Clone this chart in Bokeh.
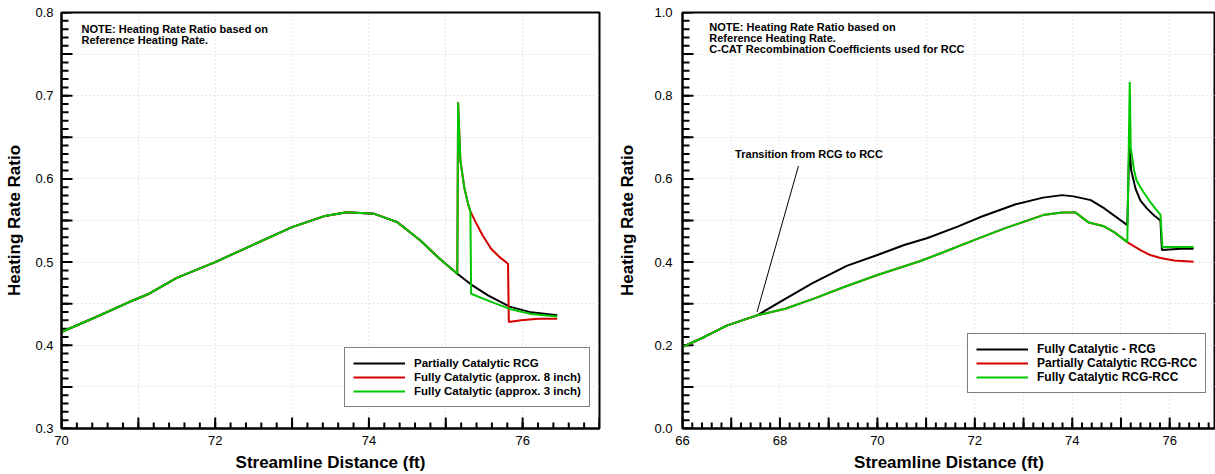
import numpy as np
from bokeh.plotting import figure
from bokeh.layouts import row
from bokeh.models import (SingleIntervalTicker, CustomJSTickFormatter, Label, Range1d)
from bokeh.embed import file_html
from bokeh.resources import INLINE

FONT = "Liberation Sans"
BLACK, RED, GREEN = "#000000", "#d40000", "#00c800"

# ---------------- Left chart data ----------------
left_common_x = [70.0, 70.45, 70.88, 71.14, 71.5, 72.0, 72.45, 73.0, 73.41, 73.71, 74.07, 74.37, 74.67, 74.92, 75.15]
left_common_y = [0.416, 0.434, 0.452, 0.462, 0.481, 0.500, 0.519, 0.542, 0.555, 0.560, 0.558, 0.548, 0.526, 0.504, 0.486]
left_black_tail_x = [75.33, 75.55, 75.83, 76.11, 76.45]
left_black_tail_y = [0.473, 0.460, 0.4465, 0.4396, 0.436]
left_spike_x = [75.16, 75.19, 75.24, 75.29, 75.32]
left_spike_y = [0.692, 0.622, 0.590, 0.570, 0.561]
left_red_tail_x = [75.40, 75.48, 75.59, 75.70, 75.81, 75.82, 75.98, 76.20, 76.45]
left_red_tail_y = [0.546, 0.532, 0.516, 0.506, 0.498, 0.428, 0.430, 0.432, 0.432]
left_green_tail_x = [75.33, 75.55, 75.83, 76.11, 76.45]
left_green_tail_y = [0.462, 0.4537, 0.4437, 0.4377, 0.4345]
left_labels = ["Partially Catalytic RCG", "Fully Catalytic (approx. 8 inch)", "Fully Catalytic (approx. 3 inch)"]
left_note = ["NOTE: Heating Rate Ratio based on", "Reference Heating Rate."]

# ---------------- Right chart data ----------------
right_common_x = [66.0, 66.45, 66.92, 67.53]
right_common_y = [0.196, 0.220, 0.248, 0.272]
right_black_x = [68.03, 68.66, 69.37, 70.0, 70.55, 71.03, 71.66, 72.13, 72.84, 73.40, 73.79, 74.03, 74.38, 74.66, 75.13,
                 75.17, 75.21, 75.30, 75.40, 75.54, 75.68, 75.81, 75.84, 76.23, 76.49]
right_black_y = [0.306, 0.349, 0.391, 0.417, 0.441, 0.458, 0.486, 0.509, 0.539, 0.555, 0.561, 0.558, 0.549, 0.529, 0.489,
                 0.680, 0.620, 0.576, 0.548, 0.528, 0.512, 0.500, 0.429, 0.432, 0.432]
right_rcc_x = [68.11, 68.74, 69.29, 70.0, 70.87, 71.34, 72.01, 72.61, 73.40, 73.79, 74.07, 74.34, 74.65, 74.86, 75.13]
right_rcc_y = [0.288, 0.314, 0.339, 0.369, 0.402, 0.423, 0.454, 0.481, 0.513, 0.519, 0.519, 0.495, 0.486, 0.472, 0.448]
right_red_tail_x = [75.17, 75.40, 75.60, 75.81, 76.09, 76.49]
right_red_tail_y = [0.445, 0.429, 0.417, 0.410, 0.404, 0.401]
right_green_tail_x = [75.18, 75.20, 75.27, 75.32, 75.44, 75.58, 75.71, 75.81, 75.85, 76.49]
right_green_tail_y = [0.833, 0.676, 0.620, 0.596, 0.572, 0.548, 0.528, 0.514, 0.436, 0.436]
right_labels = ["Fully Catalytic - RCG", "Partially Catalytic RCG-RCC", "Fully Catalytic RCG-RCC"]
right_note = ["NOTE: Heating Rate Ratio based on", "Reference Heating Rate.", "C-CAT Recombination Coefficients used for RCC"]
transition_text = "Transition from RCG to RCC"
transition_text_pos = (67.08, 0.661)
transition_line_x = [68.38, 67.53]
transition_line_y = [0.631, 0.280]


def style(p, xint, yint, x_label_js, y_label_js, ylab_standoff, ystand):
    p.outline_line_color = "black"
    p.outline_line_width = 2
    p.outline_line_alpha = 1
    p.background_fill_color = "white"
    p.border_fill_color = "white"
    p.xaxis.ticker = SingleIntervalTicker(interval=xint, num_minor_ticks=5)
    p.yaxis.ticker = SingleIntervalTicker(interval=yint, num_minor_ticks=5)
    p.xaxis.formatter = CustomJSTickFormatter(code=x_label_js)
    p.yaxis.formatter = CustomJSTickFormatter(code=y_label_js)
    for ax in (p.xaxis[0], p.yaxis[0]):
        ax.axis_line_width = 2
        ax.axis_line_color = "black"
        ax.major_tick_in = 0
        ax.major_tick_out = 0
        ax.minor_tick_in = 0
        ax.minor_tick_out = 0
        ax.major_label_text_font = FONT
        ax.major_label_text_font_size = "13px"
        ax.major_label_text_color = "black"
        ax.axis_label_text_font = FONT
        ax.axis_label_text_font_size = "17px"
        ax.axis_label_text_font_style = "bold"
        ax.axis_label_text_color = "black"
    p.xaxis.axis_label = "Streamline Distance (ft)"
    p.yaxis.axis_label = "Heating Rate Ratio"
    p.xaxis.major_label_standoff = 7
    p.xaxis.axis_label_standoff = 5
    p.yaxis.major_label_standoff = ystand
    p.yaxis.axis_label_standoff = ylab_standoff
    p.grid.grid_line_color = "#d0d0d0"
    p.grid.grid_line_dash = "1 3"
    p.grid.grid_line_width = 1


def inner_ticks(p, xr, yr, frame_w, frame_h, xmajor, xminor, ymajor, yminor):
    """Inward tick marks along the bottom and left frame edges; lengths given in pixels."""
    x0, x1 = xr
    y0, y1 = yr
    dx = (x1 - x0) / frame_w   # data units per pixel
    dy = (y1 - y0) / frame_h

    def seq(a, b, step):
        n = int(np.floor((b - a) / step + 1e-6))
        return [float(round(a + i * step, 6)) for i in range(n + 1)]
    xm, xn = seq(x0, x1, xmajor), seq(x0, x1, xminor)
    ym, yn = seq(y0, y1, ymajor), seq(y0, y1, yminor)
    xs, ys = [], []
    for v in xn:
        xs.append([v, v]); ys.append([y0, y0 + 6 * dy])
    for v in xm:
        xs.append([v, v]); ys.append([y0, y0 + 11 * dy])
    for v in yn:
        xs.append([x0, x0 + 7 * dx]); ys.append([v, v])
    for v in ym:
        xs.append([x0, x0 + 11 * dx]); ys.append([v, v])
    p.multi_line(xs=xs, ys=ys, line_color="black", line_width=2)


def legend_style(p, loc, size):
    lg = p.legend[0]
    lg.location = loc
    lg.label_text_font = FONT
    lg.label_text_font_size = size
    lg.label_text_font_style = "bold"
    lg.label_text_color = "black"
    lg.glyph_width = 52
    lg.glyph_height = 14
    lg.label_height = 14
    lg.spacing = 0
    lg.padding = 8
    lg.margin = 0
    lg.label_standoff = 9
    lg.border_line_color = "black"
    lg.border_line_width = 1
    lg.background_fill_color = "white"
    lg.background_fill_alpha = 1


# ---------------- Left figure ----------------
p1 = figure(width=610, height=474, output_backend="svg", toolbar_location=None,
            x_range=Range1d(70, 77), y_range=Range1d(0.3, 0.8),
            min_border_left=61, min_border_right=11, min_border_top=12, min_border_bottom=46)
style(p1, 1, 0.05,
      "return (Math.round(tick) % 2 == 0) ? Math.round(tick).toString() : '';",
      "const k = Math.round(tick*20); return (k % 2 == 0) ? tick.toFixed(1) : '';",
      8, 8)
inner_ticks(p1, (70, 77), (0.3, 0.8), 538, 416, 1, 0.2, 0.05, 0.01)

p1.line(left_common_x + left_black_tail_x, left_common_y + left_black_tail_y,
        line_color=BLACK, line_width=2, legend_label=left_labels[0])
p1.line(left_common_x + left_spike_x + left_red_tail_x, left_common_y + left_spike_y + left_red_tail_y,
        line_color=RED, line_width=2, legend_label=left_labels[1])
p1.line(left_common_x + left_spike_x + left_green_tail_x, left_common_y + left_spike_y + left_green_tail_y,
        line_color=GREEN, line_width=2, legend_label=left_labels[2])
legend_style(p1, (283, 21), "11.5px")

for i, t in enumerate(left_note):
    p1.add_layout(Label(x=70.26, y=0.7807 - i * 0.0132, text=t, text_font=FONT, text_font_size="11px",
                        text_font_style="bold", text_baseline="middle", text_color="black"))

# ---------------- Right figure ----------------
p2 = figure(width=605, height=474, output_backend="svg", toolbar_location=None,
            x_range=Range1d(66, 76.94), y_range=Range1d(0.0, 1.0),
            min_border_left=72, min_border_right=0, min_border_top=12, min_border_bottom=46)
style(p2, 1, 0.1,
      "return (Math.round(tick) % 2 == 0) ? Math.round(tick).toString() : '';",
      "const k = Math.round(tick*10); return (k % 2 == 0) ? tick.toFixed(1) : '';",
      14, 10)
inner_ticks(p2, (66, 76.94), (0.0, 1.0), 533, 416, 1, 0.2, 0.1, 0.02)

p2.line(right_common_x + right_black_x, right_common_y + right_black_y,
        line_color=BLACK, line_width=2, legend_label=right_labels[0])
p2.line(right_common_x + right_rcc_x + right_red_tail_x, right_common_y + right_rcc_y + right_red_tail_y,
        line_color=RED, line_width=2, legend_label=right_labels[1])
p2.line(right_common_x + right_rcc_x + right_green_tail_x, right_common_y + right_rcc_y + right_green_tail_y,
        line_color=GREEN, line_width=2, legend_label=right_labels[2])
legend_style(p2, (285, 35), "12px")

for i, t in enumerate(right_note):
    p2.add_layout(Label(x=66.55, y=0.9653 - i * 0.0265, text=t, text_font=FONT, text_font_size="11px",
                        text_font_style="bold", text_baseline="middle", text_color="black"))
p2.add_layout(Label(x=transition_text_pos[0], y=transition_text_pos[1], text=transition_text, text_font=FONT,
                    text_font_size="11px", text_font_style="bold", text_baseline="middle", text_color="black"))
p2.line(transition_line_x, transition_line_y, line_color="black", line_width=1)

layout = row(p1, p2)
open("out.html", "w").write(file_html(layout, INLINE))
